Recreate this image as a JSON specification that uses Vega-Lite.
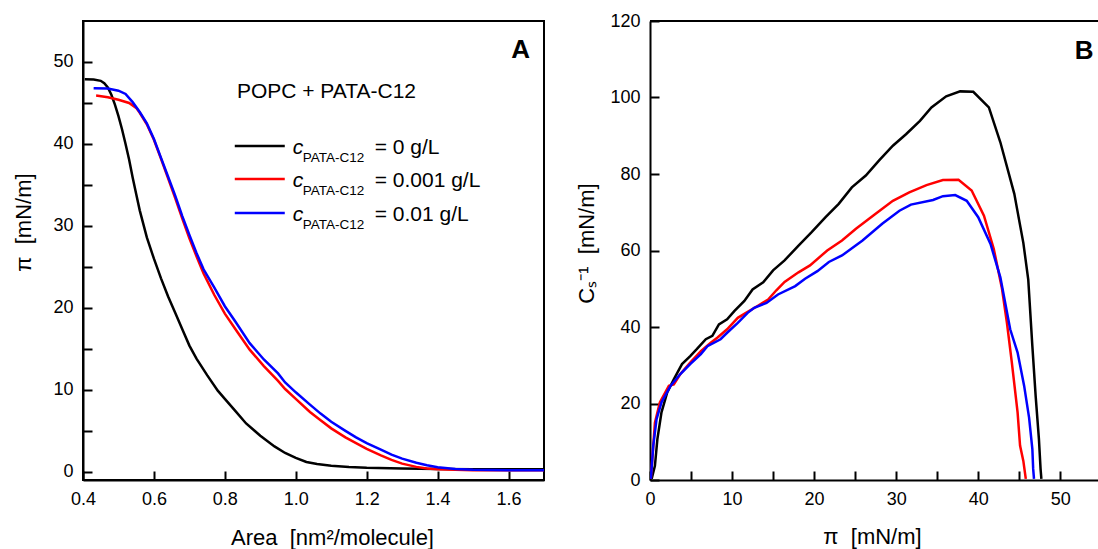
{
  "$schema": "https://vega.github.io/schema/vega-lite/v6.json",
  "background": "white",
  "padding": {"left": 11, "top": 12, "right": 0, "bottom": 0},
  "config": {
    "font": "Liberation Sans",
    "view": {"stroke": null},
    "axis": {
      "domainColor": "black", "domainWidth": 2,
      "tickColor": "black", "tickWidth": 2, "tickSize": -9,
      "labelPadding": 19, "labelFont": "Liberation Sans", "labelFontSize": 18, "labelColor": "black",
      "titleFont": "Liberation Sans", "titleFontSize": 22, "titleFontWeight": "normal", "titleColor": "black",
      "grid": false, "labelFlush": false, "labelOverlap": false
    }
  },
  "spacing": 106,
  "bounds": "flush",
  "hconcat": [
    {
      "width": 461,
      "height": 459,
      "view": {"stroke": "black", "strokeWidth": 2},
      "layer": [
        {
          "data": {"values": [
            {"s":"0","a":0.405,"p":47.9},{"s":"0","a":0.43,"p":47.85},{"s":"0","a":0.45,"p":47.7},{"s":"0","a":0.46,"p":47.4},{"s":"0","a":0.47,"p":46.9},{"s":"0","a":0.48,"p":46.0},{"s":"0","a":0.49,"p":44.8},{"s":"0","a":0.50,"p":43.4},{"s":"0","a":0.51,"p":41.8},{"s":"0","a":0.52,"p":40.0},{"s":"0","a":0.53,"p":38.1},{"s":"0","a":0.54,"p":35.9},{"s":"0","a":0.55,"p":33.9},{"s":"0","a":0.56,"p":31.9},{"s":"0","a":0.58,"p":28.6},{"s":"0","a":0.60,"p":26.0},{"s":"0","a":0.62,"p":23.6},{"s":"0","a":0.64,"p":21.4},{"s":"0","a":0.66,"p":19.4},{"s":"0","a":0.68,"p":17.4},{"s":"0","a":0.70,"p":15.4},{"s":"0","a":0.72,"p":13.8},{"s":"0","a":0.75,"p":11.8},{"s":"0","a":0.78,"p":9.9},{"s":"0","a":0.80,"p":8.9},{"s":"0","a":0.83,"p":7.4},{"s":"0","a":0.86,"p":5.9},{"s":"0","a":0.90,"p":4.4},{"s":"0","a":0.94,"p":3.1},{"s":"0","a":0.97,"p":2.3},{"s":"0","a":1.00,"p":1.7},{"s":"0","a":1.03,"p":1.2},{"s":"0","a":1.06,"p":0.95},{"s":"0","a":1.10,"p":0.75},{"s":"0","a":1.15,"p":0.6},{"s":"0","a":1.2,"p":0.5},{"s":"0","a":1.3,"p":0.4},{"s":"0","a":1.4,"p":0.35},{"s":"0","a":1.5,"p":0.3},{"s":"0","a":1.6,"p":0.3},{"s":"0","a":1.7,"p":0.3},
            {"s":"0.001","a":0.437,"p":45.9},{"s":"0.001","a":0.47,"p":45.7},{"s":"0.001","a":0.50,"p":45.4},{"s":"0.001","a":0.53,"p":45.0},{"s":"0.001","a":0.55,"p":44.4},{"s":"0.001","a":0.56,"p":43.8},{"s":"0.001","a":0.58,"p":42.4},{"s":"0.001","a":0.60,"p":40.5},{"s":"0.001","a":0.62,"p":38.2},{"s":"0.001","a":0.64,"p":35.8},{"s":"0.001","a":0.66,"p":33.4},{"s":"0.001","a":0.68,"p":30.9},{"s":"0.001","a":0.70,"p":28.5},{"s":"0.001","a":0.72,"p":26.3},{"s":"0.001","a":0.74,"p":24.2},{"s":"0.001","a":0.77,"p":21.6},{"s":"0.001","a":0.80,"p":19.3},{"s":"0.001","a":0.83,"p":17.4},{"s":"0.001","a":0.87,"p":14.9},{"s":"0.001","a":0.91,"p":12.9},{"s":"0.001","a":0.95,"p":11.1},{"s":"0.001","a":0.97,"p":10.1},{"s":"0.001","a":1.00,"p":8.9},{"s":"0.001","a":1.04,"p":7.3},{"s":"0.001","a":1.07,"p":6.3},{"s":"0.001","a":1.10,"p":5.3},{"s":"0.001","a":1.14,"p":4.2},{"s":"0.001","a":1.17,"p":3.5},{"s":"0.001","a":1.20,"p":2.8},{"s":"0.001","a":1.24,"p":2.0},{"s":"0.001","a":1.27,"p":1.45},{"s":"0.001","a":1.30,"p":1.0},{"s":"0.001","a":1.34,"p":0.6},{"s":"0.001","a":1.37,"p":0.4},{"s":"0.001","a":1.40,"p":0.3},{"s":"0.001","a":1.5,"p":0.2},{"s":"0.001","a":1.6,"p":0.2},{"s":"0.001","a":1.7,"p":0.2},
            {"s":"0.01","a":0.43,"p":46.8},{"s":"0.01","a":0.47,"p":46.75},{"s":"0.01","a":0.50,"p":46.5},{"s":"0.01","a":0.52,"p":46.1},{"s":"0.01","a":0.54,"p":45.1},{"s":"0.01","a":0.56,"p":43.9},{"s":"0.01","a":0.58,"p":42.5},{"s":"0.01","a":0.60,"p":40.6},{"s":"0.01","a":0.62,"p":38.3},{"s":"0.01","a":0.64,"p":36.0},{"s":"0.01","a":0.66,"p":33.7},{"s":"0.01","a":0.68,"p":31.2},{"s":"0.01","a":0.70,"p":28.9},{"s":"0.01","a":0.72,"p":26.7},{"s":"0.01","a":0.74,"p":24.7},{"s":"0.01","a":0.77,"p":22.5},{"s":"0.01","a":0.80,"p":20.2},{"s":"0.01","a":0.83,"p":18.3},{"s":"0.01","a":0.87,"p":15.7},{"s":"0.01","a":0.91,"p":13.7},{"s":"0.01","a":0.95,"p":12.0},{"s":"0.01","a":0.97,"p":10.9},{"s":"0.01","a":1.00,"p":9.7},{"s":"0.01","a":1.04,"p":8.2},{"s":"0.01","a":1.07,"p":7.1},{"s":"0.01","a":1.10,"p":6.1},{"s":"0.01","a":1.14,"p":5.0},{"s":"0.01","a":1.17,"p":4.2},{"s":"0.01","a":1.20,"p":3.5},{"s":"0.01","a":1.24,"p":2.7},{"s":"0.01","a":1.27,"p":2.1},{"s":"0.01","a":1.30,"p":1.6},{"s":"0.01","a":1.34,"p":1.1},{"s":"0.01","a":1.37,"p":0.8},{"s":"0.01","a":1.40,"p":0.55},{"s":"0.01","a":1.45,"p":0.35},{"s":"0.01","a":1.5,"p":0.25},{"s":"0.01","a":1.6,"p":0.2},{"s":"0.01","a":1.7,"p":0.2}
          ]},
          "mark": {"type": "line", "strokeWidth": 2.5, "clip": true},
          "encoding": {
            "x": {"field": "a", "type": "quantitative",
                  "scale": {"domain": [0.4, 1.7], "nice": false, "zero": false},
                  "axis": {"values": [0.4,0.5,0.6,0.7,0.8,0.9,1.0,1.1,1.2,1.3,1.4,1.5,1.6], "format": ".1f",
                           "labelExpr": "round(datum.value*10) % 2 == 0 ? datum.label : ''",
                           "title": "Area\u00a0 [nm²/molecule]", "titleBaseline": "middle", "titleX": 249, "titleY": 57}},
            "y": {"field": "p", "type": "quantitative",
                  "scale": {"domain": [-1, 55], "nice": false, "zero": false},
                  "axis": {"values": [0,5,10,15,20,25,30,35,40,45,50],
                           "labelExpr": "datum.value % 10 == 0 ? datum.label : ''",
                           "title": "π\u00a0 [mN/m]", "titleBaseline": "middle", "titleX": -60, "titleY": 201}},
            "color": {"field": "s", "type": "nominal",
                      "scale": {"domain": ["0", "0.001", "0.01"], "range": ["#000000", "#ff0000", "#0000ff"]},
                      "legend": null}
          }
        },
        {"data": {"values": [{}]}, "mark": {"type": "text", "text": "A", "fontSize": 26, "fontWeight": "bold", "align": "center", "baseline": "middle", "color": "black"},
         "encoding": {"x": {"datum": 1.634}, "y": {"datum": 51.5}}},
        {"data": {"values": [{}]}, "mark": {"type": "text", "text": "POPC + PATA-C12", "fontSize": 21, "align": "left", "baseline": "middle", "color": "black"},
         "encoding": {"x": {"datum": 0.834}, "y": {"datum": 46.3}}},
        {"data": {"values": [{}]}, "mark": {"type": "rule", "color": "#000000", "strokeWidth": 2.5},
         "encoding": {"x": {"datum": 0.828}, "x2": {"datum": 0.969}, "y": {"datum": 39.76}}},
        {"data": {"values": [{}]}, "mark": {"type": "rule", "color": "#ff0000", "strokeWidth": 2.5},
         "encoding": {"x": {"datum": 0.828}, "x2": {"datum": 0.969}, "y": {"datum": 35.73}}},
        {"data": {"values": [{}]}, "mark": {"type": "rule", "color": "#0000ff", "strokeWidth": 2.5},
         "encoding": {"x": {"datum": 0.828}, "x2": {"datum": 0.969}, "y": {"datum": 31.59}}},
        {"data": {"values": [{}]}, "mark": {"type": "text", "text": "c", "fontSize": 21, "fontStyle": "italic", "align": "left", "baseline": "alphabetic", "color": "black"},
         "encoding": {"x": {"datum": 0.9915}, "y": {"datum": 38.78}}},
        {"data": {"values": [{}]}, "mark": {"type": "text", "text": "c", "fontSize": 21, "fontStyle": "italic", "align": "left", "baseline": "alphabetic", "color": "black"},
         "encoding": {"x": {"datum": 0.9915}, "y": {"datum": 34.76}}},
        {"data": {"values": [{}]}, "mark": {"type": "text", "text": "c", "fontSize": 21, "fontStyle": "italic", "align": "left", "baseline": "alphabetic", "color": "black"},
         "encoding": {"x": {"datum": 0.9915}, "y": {"datum": 30.61}}},
        {"data": {"values": [{}]}, "mark": {"type": "text", "text": "PATA-C12", "fontSize": 13.5, "align": "left", "baseline": "alphabetic", "color": "black"},
         "encoding": {"x": {"datum": 1.0197}, "y": {"datum": 37.8}}},
        {"data": {"values": [{}]}, "mark": {"type": "text", "text": "PATA-C12", "fontSize": 13.5, "align": "left", "baseline": "alphabetic", "color": "black"},
         "encoding": {"x": {"datum": 1.0197}, "y": {"datum": 33.78}}},
        {"data": {"values": [{}]}, "mark": {"type": "text", "text": "PATA-C12", "fontSize": 13.5, "align": "left", "baseline": "alphabetic", "color": "black"},
         "encoding": {"x": {"datum": 1.0197}, "y": {"datum": 29.63}}},
        {"data": {"values": [{}]}, "mark": {"type": "text", "text": "= 0 g/L", "fontSize": 21, "align": "left", "baseline": "alphabetic", "color": "black"},
         "encoding": {"x": {"datum": 1.2225}, "y": {"datum": 38.78}}},
        {"data": {"values": [{}]}, "mark": {"type": "text", "text": "= 0.001 g/L", "fontSize": 21, "align": "left", "baseline": "alphabetic", "color": "black"},
         "encoding": {"x": {"datum": 1.2225}, "y": {"datum": 34.76}}},
        {"data": {"values": [{}]}, "mark": {"type": "text", "text": "= 0.01 g/L", "fontSize": 21, "align": "left", "baseline": "alphabetic", "color": "black"},
         "encoding": {"x": {"datum": 1.2225}, "y": {"datum": 30.61}}}
      ]
    },
    {
      "width": 448,
      "height": 459,
      "layer": [
        {
          "data": {"values": [
            {"s":"0","p":0.2,"c":0.3},{"s":"0","p":0.6,"c":3.7},{"s":"0","p":0.9,"c":10.7},{"s":"0","p":1.4,"c":17.7},{"s":"0","p":2.1,"c":22.9},{"s":"0","p":2.9,"c":26.3},{"s":"0","p":3.9,"c":30.3},{"s":"0","p":4.9,"c":32.4},{"s":"0","p":5.7,"c":34.2},{"s":"0","p":6.8,"c":36.8},{"s":"0","p":7.6,"c":37.7},{"s":"0","p":8.4,"c":40.7},{"s":"0","p":9.4,"c":42.0},{"s":"0","p":10.3,"c":44.2},{"s":"0","p":11.5,"c":46.8},{"s":"0","p":12.5,"c":49.8},{"s":"0","p":13.8,"c":51.7},{"s":"0","p":15.0,"c":54.8},{"s":"0","p":16.4,"c":57.4},{"s":"0","p":18.1,"c":61.3},{"s":"0","p":19.7,"c":64.8},{"s":"0","p":21.4,"c":68.7},{"s":"0","p":23.0,"c":72.2},{"s":"0","p":24.6,"c":76.5},{"s":"0","p":26.3,"c":79.6},{"s":"0","p":27.9,"c":83.5},{"s":"0","p":29.6,"c":87.4},{"s":"0","p":31.2,"c":90.4},{"s":"0","p":32.9,"c":93.9},{"s":"0","p":34.3,"c":97.4},{"s":"0","p":36.1,"c":100.3},{"s":"0","p":37.8,"c":101.6},{"s":"0","p":39.4,"c":101.5},{"s":"0","p":41.3,"c":97.4},{"s":"0","p":42.7,"c":88.3},{"s":"0","p":44.4,"c":74.8},{"s":"0","p":45.5,"c":62.0},{"s":"0","p":46.1,"c":52.4},{"s":"0","p":46.6,"c":35.0},{"s":"0","p":47.0,"c":22.0},{"s":"0","p":47.4,"c":10.7},{"s":"0","p":47.6,"c":2.9},{"s":"0","p":47.7,"c":0.3},
            {"s":"0.001","p":0.1,"c":0.3},{"s":"0.001","p":0.4,"c":9.0},{"s":"0.001","p":0.6,"c":15.0},{"s":"0.001","p":1.2,"c":20.3},{"s":"0.001","p":2.3,"c":24.6},{"s":"0.001","p":2.9,"c":25.0},{"s":"0.001","p":3.7,"c":27.7},{"s":"0.001","p":4.9,"c":30.7},{"s":"0.001","p":6.2,"c":33.7},{"s":"0.001","p":7.4,"c":35.9},{"s":"0.001","p":8.2,"c":37.2},{"s":"0.001","p":9.4,"c":39.4},{"s":"0.001","p":10.7,"c":42.4},{"s":"0.001","p":11.7,"c":43.7},{"s":"0.001","p":13.1,"c":45.5},{"s":"0.001","p":14.4,"c":47.2},{"s":"0.001","p":15.4,"c":49.6},{"s":"0.001","p":16.4,"c":51.8},{"s":"0.001","p":18.1,"c":54.3},{"s":"0.001","p":19.5,"c":56.1},{"s":"0.001","p":21.6,"c":60.0},{"s":"0.001","p":23.4,"c":62.6},{"s":"0.001","p":25.1,"c":65.7},{"s":"0.001","p":27.5,"c":69.6},{"s":"0.001","p":29.6,"c":73.0},{"s":"0.001","p":31.6,"c":75.2},{"s":"0.001","p":33.7,"c":77.1},{"s":"0.001","p":35.7,"c":78.4},{"s":"0.001","p":37.6,"c":78.5},{"s":"0.001","p":39.2,"c":75.7},{"s":"0.001","p":40.7,"c":69.1},{"s":"0.001","p":41.9,"c":60.4},{"s":"0.001","p":42.9,"c":50.0},{"s":"0.001","p":43.5,"c":41.1},{"s":"0.001","p":44.1,"c":30.7},{"s":"0.001","p":44.8,"c":17.7},{"s":"0.001","p":45.1,"c":9.0},{"s":"0.001","p":45.5,"c":5.0},{"s":"0.001","p":45.8,"c":0.3},
            {"s":"0.01","p":0.1,"c":0.3},{"s":"0.01","p":0.4,"c":9.0},{"s":"0.01","p":0.8,"c":15.9},{"s":"0.01","p":1.4,"c":20.3},{"s":"0.01","p":2.5,"c":24.6},{"s":"0.01","p":3.7,"c":27.7},{"s":"0.01","p":4.9,"c":30.3},{"s":"0.01","p":6.2,"c":32.9},{"s":"0.01","p":7.0,"c":35.0},{"s":"0.01","p":8.6,"c":36.8},{"s":"0.01","p":9.4,"c":38.5},{"s":"0.01","p":10.7,"c":41.1},{"s":"0.01","p":11.9,"c":43.7},{"s":"0.01","p":12.7,"c":45.0},{"s":"0.01","p":14.2,"c":46.3},{"s":"0.01","p":15.6,"c":48.5},{"s":"0.01","p":17.7,"c":50.7},{"s":"0.01","p":18.9,"c":52.6},{"s":"0.01","p":20.4,"c":54.6},{"s":"0.01","p":21.8,"c":57.0},{"s":"0.01","p":23.4,"c":58.7},{"s":"0.01","p":25.9,"c":62.6},{"s":"0.01","p":28.3,"c":67.0},{"s":"0.01","p":30.4,"c":70.4},{"s":"0.01","p":31.8,"c":72.0},{"s":"0.01","p":34.5,"c":73.2},{"s":"0.01","p":35.7,"c":74.2},{"s":"0.01","p":37.2,"c":74.5},{"s":"0.01","p":38.6,"c":73.0},{"s":"0.01","p":40.0,"c":68.7},{"s":"0.01","p":41.5,"c":61.7},{"s":"0.01","p":42.7,"c":53.0},{"s":"0.01","p":43.9,"c":39.4},{"s":"0.01","p":44.8,"c":33.3},{"s":"0.01","p":45.6,"c":24.6},{"s":"0.01","p":46.2,"c":16.3},{"s":"0.01","p":46.6,"c":8.1},{"s":"0.01","p":46.7,"c":2.9},{"s":"0.01","p":46.8,"c":0.3}
          ]},
          "mark": {"type": "line", "strokeWidth": 2.5, "clip": true},
          "encoding": {
            "x": {"field": "p", "type": "quantitative",
                  "scale": {"domain": [0, 54.6], "nice": false, "zero": false},
                  "axis": {"values": [0,5,10,15,20,25,30,35,40,45,50],
                           "labelExpr": "datum.value % 10 == 0 ? datum.label : ''",
                           "title": "π\u00a0 [mN/m]", "titleBaseline": "middle", "titleX": 222, "titleY": 56}},
            "y": {"field": "c", "type": "quantitative",
                  "scale": {"domain": [0, 120], "nice": false, "zero": false},
                  "axis": {"values": [0,10,20,30,40,50,60,70,80,90,100,110,120],
                           "labelExpr": "datum.value % 20 == 0 ? datum.label : ''",
                           "title": "Cₛ⁻¹\u00a0 [mN/m]", "titleBaseline": "middle", "titleX": -64, "titleY": 222}},
            "color": {"field": "s", "type": "nominal",
                      "scale": {"domain": ["0", "0.001", "0.01"], "range": ["#000000", "#ff0000", "#0000ff"]},
                      "legend": null}
          }
        },
        {"data": {"values": [{}]}, "mark": {"type": "rule", "color": "black", "strokeWidth": 2},
         "encoding": {"y": {"datum": 120}}},
        {"data": {"values": [{}]}, "mark": {"type": "text", "text": "B", "fontSize": 26, "fontWeight": "bold", "align": "center", "baseline": "middle", "color": "black"},
         "encoding": {"x": {"datum": 52.9}, "y": {"datum": 112.2}}}
      ]
    }
  ]
}
